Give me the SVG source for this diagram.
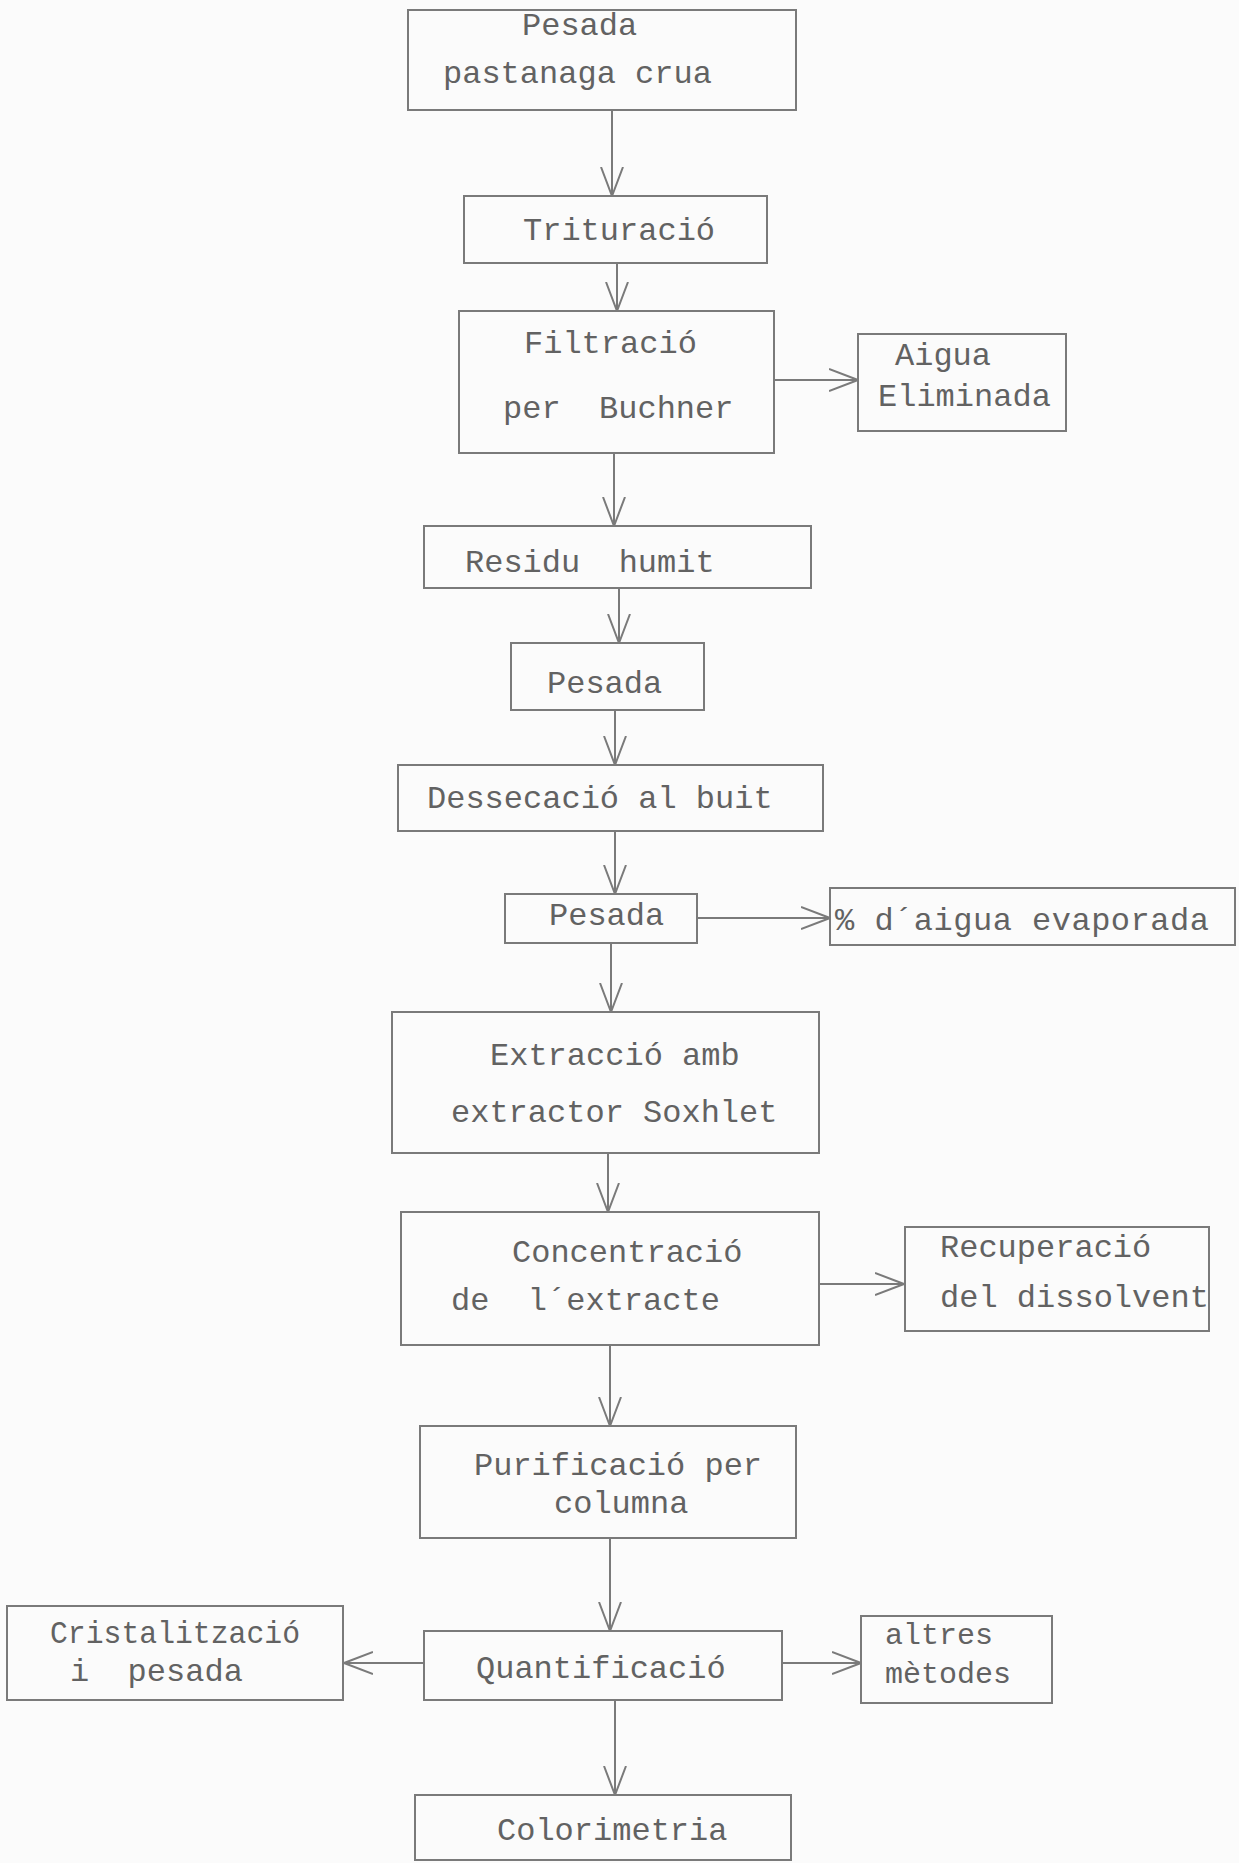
<svg xmlns="http://www.w3.org/2000/svg" width="1239" height="1863" viewBox="0 0 1239 1863">
<style>
.bg{fill:#fbfbfb}
.box{fill:none;stroke:#7a7a7a;stroke-width:2}
.t{font-family:"Liberation Mono","DejaVu Sans Mono",monospace;font-size:32px;fill:#626262}
.c{fill:none;stroke:#7a7a7a;stroke-width:2}
</style>
<defs>
<marker id="v" viewBox="0 0 30 24" refX="29" refY="12" markerWidth="30" markerHeight="24" orient="auto" markerUnits="userSpaceOnUse">
<path d="M0,1 L29,12 L0,23" fill="none" stroke="#7a7a7a" stroke-width="2"/>
</marker>
</defs>
<rect class="bg" x="0" y="0" width="1239" height="1863"/>
<g id="connectors">
<path class="c" d="M612,110 V196" marker-end="url(#v)"/>
<path class="c" d="M617,263 V311" marker-end="url(#v)"/>
<path class="c" d="M774,380 H858" marker-end="url(#v)"/>
<path class="c" d="M614,453 V526" marker-end="url(#v)"/>
<path class="c" d="M619,588 V643" marker-end="url(#v)"/>
<path class="c" d="M615,710 V765" marker-end="url(#v)"/>
<path class="c" d="M615,831 V894" marker-end="url(#v)"/>
<path class="c" d="M697,918 H830" marker-end="url(#v)"/>
<path class="c" d="M611,943 V1012" marker-end="url(#v)"/>
<path class="c" d="M608,1153 V1212" marker-end="url(#v)"/>
<path class="c" d="M819,1284 H904" marker-end="url(#v)"/>
<path class="c" d="M610,1345 V1426" marker-end="url(#v)"/>
<path class="c" d="M610,1538 V1631" marker-end="url(#v)"/>
<path class="c" d="M424,1663 H344" marker-end="url(#v)"/>
<path class="c" d="M782,1663 H861" marker-end="url(#v)"/>
<path class="c" d="M615,1700 V1795" marker-end="url(#v)"/>
</g>
<g id="n1"><rect class="box" x="408" y="10" width="388" height="100"/><text class="t" x="522" y="35">Pesada</text><text class="t" x="443" y="83">pastanaga crua</text></g>
<g id="n2"><rect class="box" x="464" y="196" width="303" height="67"/><text class="t" x="523" y="240">Trituració</text></g>
<g id="n3"><rect class="box" x="459" y="311" width="315" height="142"/><text class="t" x="524" y="353">Filtració</text><text class="t" x="503" y="418" xml:space="preserve">per  Buchner</text></g>
<g id="n4"><rect class="box" x="858" y="334" width="208" height="97"/><text class="t" x="895" y="365">Aigua</text><text class="t" x="878" y="406">Eliminada</text></g>
<g id="n5"><rect class="box" x="424" y="526" width="387" height="62"/><text class="t" x="465" y="572" xml:space="preserve">Residu  humit</text></g>
<g id="n6"><rect class="box" x="511" y="643" width="193" height="67"/><text class="t" x="547" y="693">Pesada</text></g>
<g id="n7"><rect class="box" x="398" y="765" width="425" height="66"/><text class="t" x="427" y="808">Dessecació al buit</text></g>
<g id="n8"><rect class="box" x="505" y="894" width="192" height="49"/><text class="t" x="549" y="925">Pesada</text></g>
<g id="n9"><rect class="box" x="830" y="888" width="405" height="57"/><text class="t" x="835" y="930" letter-spacing="0.5">% d´aigua evaporada</text></g>
<g id="n10"><rect class="box" x="392" y="1012" width="427" height="141"/><text class="t" x="490" y="1065">Extracció amb</text><text class="t" x="451" y="1122">extractor Soxhlet</text></g>
<g id="n11"><rect class="box" x="401" y="1212" width="418" height="133"/><text class="t" x="512" y="1262">Concentració</text><text class="t" x="451" y="1310" xml:space="preserve">de  l´extracte</text></g>
<g id="n12"><rect class="box" x="905" y="1227" width="304" height="104"/><text class="t" x="940" y="1257">Recuperació</text><text class="t" x="940" y="1307">del dissolvent</text></g>
<g id="n13"><rect class="box" x="420" y="1426" width="376" height="112"/><text class="t" x="474" y="1475">Purificació per</text><text class="t" x="554" y="1513">columna</text></g>
<g id="n14"><rect class="box" x="424" y="1631" width="358" height="69"/><text class="t" x="476" y="1678">Quantificació</text></g>
<g id="n15"><rect class="box" x="7" y="1606" width="336" height="94"/><text class="t" x="50" y="1643" textLength="250" lengthAdjust="spacingAndGlyphs">Cristalització</text><text class="t" x="70" y="1681" xml:space="preserve">i  pesada</text></g>
<g id="n16"><rect class="box" x="861" y="1616" width="191" height="87"/><text class="t" x="885" y="1644" style="font-size:30px">altres</text><text class="t" x="885" y="1683" style="font-size:30px">mètodes</text></g>
<g id="n17"><rect class="box" x="415" y="1795" width="376" height="65"/><text class="t" x="497" y="1840">Colorimetria</text></g>
</svg>
